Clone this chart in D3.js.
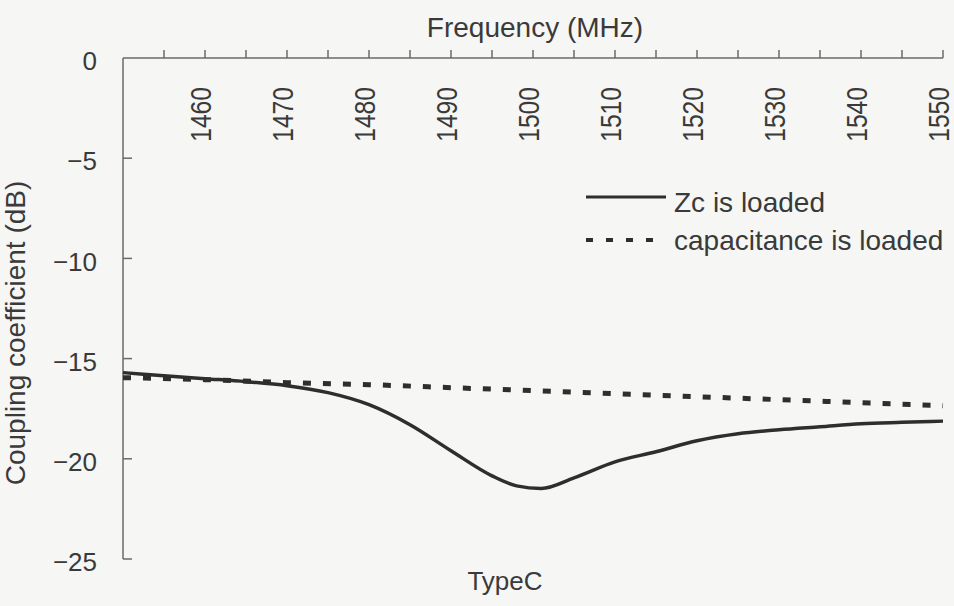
<!DOCTYPE html>
<html>
<head>
<meta charset="utf-8">
<script src="https://cdn.jsdelivr.net/npm/d3@7"></script>
<style>
  html, body { margin: 0; padding: 0; background: #f6f6f4; }
  svg { display: block; }
  text { font-family: "Liberation Sans", Arial, sans-serif; fill: #3a3a3a; }
</style>
</head>
<body>
<svg id="chart" width="954" height="606"></svg>
<script>
// Frequency sweep (MHz) and coupling coefficient (dB)
const zcFreq   = [1450, 1455, 1460, 1465, 1470, 1475, 1480, 1485, 1490, 1495, 1498, 1501, 1505, 1510, 1515, 1520, 1525, 1530, 1535, 1540, 1545, 1550];
const zcValues = [-15.7, -15.85, -16.0, -16.15, -16.35, -16.7, -17.3, -18.3, -19.6, -20.85, -21.35, -21.48, -20.95, -20.15, -19.65, -19.1, -18.75, -18.55, -18.4, -18.25, -18.18, -18.12];

const capFreq   = [1450, 1460, 1470, 1480, 1490, 1500, 1510, 1520, 1530, 1540, 1550];
const capValues = [-15.95, -16.05, -16.2, -16.3, -16.45, -16.6, -16.75, -16.9, -17.05, -17.2, -17.35];

const xTickValues = [1460, 1470, 1480, 1490, 1500, 1510, 1520, 1530, 1540, 1550];
const yTickValues = [0, -5, -10, -15, -20, -25];
const seriesNames = ["Zc is loaded", "capacitance is loaded"];

const svg = d3.select("#chart");
const lineColor = "#2e2e2e";
const axisColor = "#6a6a6a";

const x = d3.scaleLinear().domain([1450, 1550]).range([123, 943]);
const y = d3.scaleLinear().domain([0, -25]).range([58, 559]);

// Frequency axis along the top: minor ticks every 5 MHz, labels every 10 MHz
const xAxis = svg.append("g").attr("transform", `translate(0,${y(0)})`);
xAxis.append("line")
  .attr("x1", x(1450)).attr("x2", x(1550))
  .attr("stroke", axisColor).attr("stroke-width", 1.5);
xAxis.selectAll(".xtick").data(d3.range(1455, 1551, 5)).join("line")
  .attr("x1", d => x(d)).attr("x2", d => x(d))
  .attr("y1", 0).attr("y2", -8)
  .attr("stroke", axisColor).attr("stroke-width", 1.5);
xAxis.selectAll(".xlabel").data(xTickValues).join("text")
  .attr("transform", d => `translate(${x(d) - 3},29) rotate(-90) scale(0.85,1)`)
  .attr("text-anchor", "end")
  .attr("dy", "0.3em")
  .style("font-size", "29px")
  .text(d => d);

// Coupling axis on the left, ticks pointing inward
const yAxis = svg.append("g").attr("transform", `translate(${x(1450)},0)`);
yAxis.append("line")
  .attr("y1", y(0)).attr("y2", y(-25))
  .attr("stroke", axisColor).attr("stroke-width", 1.5);
yAxis.selectAll(".ytick").data(yTickValues.filter(d => d !== 0)).join("line")
  .attr("y1", d => y(d)).attr("y2", d => y(d))
  .attr("x1", 0).attr("x2", 9)
  .attr("stroke", axisColor).attr("stroke-width", 1.5);
yAxis.selectAll(".ylabel").data(yTickValues).join("text")
  .attr("x", -26)
  .attr("y", d => y(d) + 3)
  .attr("dy", "0.35em")
  .attr("text-anchor", "end")
  .style("font-size", "26px")
  .text(d => d === 0 ? "0" : "\u2212" + Math.abs(d));

// Titles
svg.append("text")
  .attr("x", 535).attr("y", 37)
  .attr("text-anchor", "middle")
  .style("font-size", "28px")
  .text("Frequency (MHz)");

svg.append("text")
  .attr("transform", "translate(25,333) rotate(-90)")
  .attr("text-anchor", "middle")
  .style("font-size", "28px")
  .text("Coupling coefficient (dB)");

svg.append("text")
  .attr("x", 505).attr("y", 590)
  .attr("text-anchor", "middle")
  .style("font-size", "26px")
  .text("TypeC");

// Data lines
const line = d3.line().x(d => x(d[0])).y(d => y(d[1])).curve(d3.curveMonotoneX);

svg.append("path")
  .datum(capFreq.map((f, i) => [f, capValues[i]]))
  .attr("d", line)
  .attr("fill", "none")
  .attr("stroke", lineColor)
  .attr("stroke-width", 5)
  .attr("stroke-dasharray", "8,12");

svg.append("path")
  .datum(zcFreq.map((f, i) => [f, zcValues[i]]))
  .attr("d", line)
  .attr("fill", "none")
  .attr("stroke", lineColor)
  .attr("stroke-width", 3.5)
  .attr("stroke-linejoin", "round");

// Legend
const legend = svg.append("g").attr("transform", "translate(586,197)");
legend.append("line")
  .attr("x1", 0).attr("x2", 80).attr("y1", 0).attr("y2", 0)
  .attr("stroke", lineColor).attr("stroke-width", 3);
legend.append("line")
  .attr("x1", 0).attr("x2", 80).attr("y1", 43).attr("y2", 43)
  .attr("stroke", lineColor).attr("stroke-width", 4)
  .attr("stroke-dasharray", "7,13");
legend.selectAll(".ltext").data(seriesNames).join("text")
  .attr("x", 88)
  .attr("y", (d, i) => 15 + i * 38)
  .style("font-size", "28px")
  .text(d => d);
</script>
</body>
</html>
